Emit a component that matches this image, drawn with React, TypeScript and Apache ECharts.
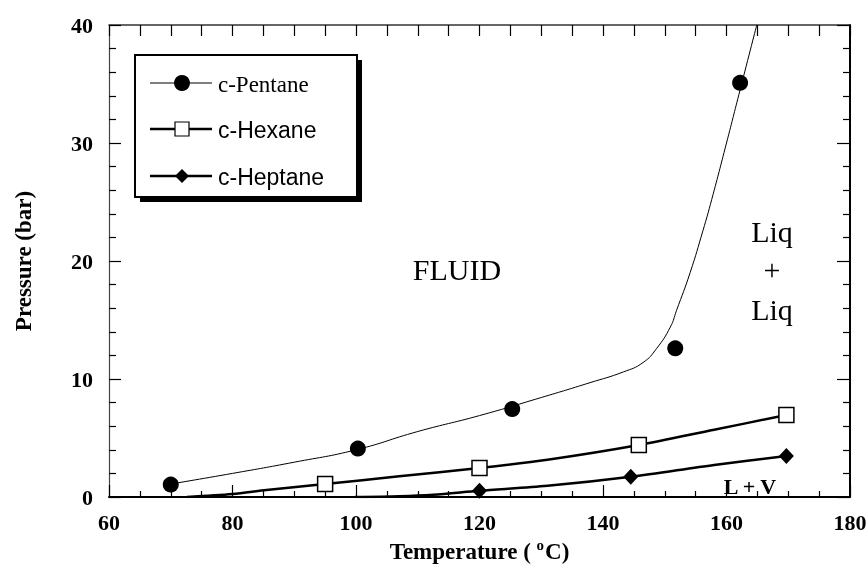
import React, { useEffect, useRef } from "react";
import * as echarts from "echarts";

// Axis ranges / ticks
const xTicks = [60, 80, 100, 120, 140, 160, 180];
const yTicks = [0, 10, 20, 30, 40];

// Measured data points (markers)
const pentaneT = [70, 100.3, 125.3, 151.7, 162.2];
const pentaneP = [1.05, 4.1, 7.45, 12.6, 35.1];
const hexaneT = [95, 120, 145.8, 169.7];
const hexaneP = [1.1, 2.45, 4.4, 6.95];
const heptaneT = [120, 144.5, 169.7];
const heptaneP = [0.53, 1.72, 3.47];

// Fitted curves
const pentaneFitT = [70, 80, 90, 100, 110, 120, 130, 137.9, 143.3, 146.5, 148.7, 150.9, 151.9, 154.1, 156.2, 157.6, 160, 162.2, 164.9];
const pentaneFitP = [1.1, 2.0, 2.95, 4.0, 5.55, 6.9, 8.43, 9.69, 10.6, 11.4, 12.6, 14.4, 15.8, 19.0, 22.6, 25.2, 30.0, 34.5, 40];
const hexaneFitT = [72.6, 80, 85.5, 95, 107, 120, 131, 145.8, 158, 169.7];
const hexaneFitP = [0, 0.25, 0.6, 1.1, 1.75, 2.45, 3.15, 4.4, 5.7, 6.95];
const heptaneFitT = [99.8, 107, 112.5, 120, 131, 144.5, 158, 169.7];
const heptaneFitP = [0, 0.07, 0.2, 0.53, 0.95, 1.72, 2.72, 3.47];

const seriesNames = ["c-Pentane", "c-Hexane", "c-Heptane"];

const zip = (a: number[], b: number[]) => a.map((v, i) => [v, b[i]]);

const SERIF = "'Liberation Serif', 'Times New Roman', serif";
const SANS = "'Liberation Sans', Arial, sans-serif";

export default function App() {
  const ref = useRef<HTMLDivElement>(null);
  useEffect(() => {
    if (!ref.current) return;
    const chart = echarts.init(ref.current, undefined, { renderer: "svg" });
    const xmin = xTicks[0], xmax = xTicks[xTicks.length - 1];
    const ymin = yTicks[0], ymax = yTicks[yTicks.length - 1];
    const labelStyle = { fontFamily: SERIF, fontWeight: "bold", fontSize: 22, color: "#000" };
    const option: any = {
      animation: false,
      grid: { left: 109, right: 16, top: 25, bottom: 82, outerBoundsMode: "none" },
      xAxis: [
        {
          type: "value", min: xmin, max: xmax, interval: 20,
          name: "{n|Temperature ( }{s|o}{n|C)}",
          nameLocation: "middle", nameGap: 38,
          nameTextStyle: {
            rich: {
              n: { fontFamily: SERIF, fontWeight: "bold", fontSize: 23, color: "#000", lineHeight: 28 },
              s: { fontFamily: SERIF, fontWeight: "bold", fontSize: 15, color: "#000", verticalAlign: "top", lineHeight: 28, padding: [0, 1, 10, 0] },
            },
          },
          axisLine: { show: true, onZero: false, lineStyle: { color: "#000", width: 2 } },
          axisTick: { show: true, inside: true, length: 12, lineStyle: { color: "#000", width: 1.2 } },
          minorTick: { show: true, splitNumber: 4, length: 6, lineStyle: { color: "#000", width: 1.2 } },
          axisLabel: { ...labelStyle, margin: 14 },
          splitLine: { show: false },
        },
        {
          type: "value", min: xmin, max: xmax, interval: 20, position: "top",
          axisLine: { show: true, onZero: false, lineStyle: { color: "#333", width: 1.5 } },
          axisTick: { show: true, inside: true, length: 11, lineStyle: { color: "#000", width: 1.2 } },
          minorTick: { show: true, splitNumber: 4, length: 11, lineStyle: { color: "#000", width: 1.2 } },
          axisLabel: { show: false },
          splitLine: { show: false },
        },
      ],
      yAxis: [
        {
          type: "value", min: ymin, max: ymax, interval: 10,
          name: "Pressure (bar)", nameLocation: "middle", nameGap: 74, nameRotate: 90,
          nameTextStyle: { fontFamily: SERIF, fontWeight: "bold", fontSize: 23, color: "#000" },
          axisLine: { show: true, onZero: false, lineStyle: { color: "#444", width: 1.2 } },
          axisTick: { show: true, inside: true, length: 12, lineStyle: { color: "#000", width: 1.2 } },
          minorTick: { show: true, splitNumber: 5, length: 7, lineStyle: { color: "#000", width: 1.2 } },
          axisLabel: { ...labelStyle, margin: 16 },
          splitLine: { show: false },
        },
        {
          type: "value", min: ymin, max: ymax, interval: 10, position: "right",
          axisLine: { show: true, onZero: false, lineStyle: { color: "#000", width: 2 } },
          axisTick: { show: true, inside: true, length: 13, lineStyle: { color: "#000", width: 1.2 } },
          minorTick: { show: true, splitNumber: 5, length: 7, lineStyle: { color: "#000", width: 1.2 } },
          axisLabel: { show: false },
          splitLine: { show: false },
        },
      ],
      series: [
        {
          name: seriesNames[0] + " fit", type: "line", data: zip(pentaneFitT, pentaneFitP),
          showSymbol: false, symbol: "none", smooth: 0.5,
          lineStyle: { color: "#000", width: 1 }, z: 2,
        },
        {
          name: seriesNames[1] + " fit", type: "line", data: zip(hexaneFitT, hexaneFitP),
          showSymbol: false, symbol: "none", smooth: 0.3,
          lineStyle: { color: "#000", width: 2.5 }, z: 2,
        },
        {
          name: seriesNames[2] + " fit", type: "line", data: zip(heptaneFitT, heptaneFitP),
          showSymbol: false, symbol: "none", smooth: 0.3,
          lineStyle: { color: "#000", width: 2.5 }, z: 2,
        },
        {
          name: seriesNames[0], type: "scatter", data: zip(pentaneT, pentaneP),
          symbol: "circle", symbolSize: 16, itemStyle: { color: "#000", opacity: 1 }, z: 5,
        },
        {
          name: seriesNames[1], type: "scatter", data: zip(hexaneT, hexaneP),
          symbol: "rect", symbolSize: 15, itemStyle: { color: "#fff", borderColor: "#000", borderWidth: 1.5, opacity: 1 }, z: 5,
        },
        {
          name: seriesNames[2], type: "scatter", data: zip(heptaneT, heptaneP),
          symbol: "diamond", symbolSize: [15, 16], itemStyle: { color: "#000", opacity: 1 }, z: 5,
        },
      ],
      graphic: [
        { type: "rect", shape: { x: 140, y: 60, width: 222, height: 142 }, style: { fill: "#000" }, z: 100 },
        { type: "rect", shape: { x: 135, y: 55, width: 222, height: 142 }, style: { fill: "#fff", stroke: "#000", lineWidth: 2 }, z: 101 },
        { type: "line", shape: { x1: 150, y1: 83, x2: 212, y2: 83 }, style: { stroke: "#000", lineWidth: 1 }, z: 102 },
        { type: "circle", shape: { cx: 182, cy: 83, r: 8 }, style: { fill: "#000" }, z: 103 },
        { type: "text", x: 218, y: 84, style: { text: seriesNames[0], fontFamily: SERIF, fontSize: 23, fill: "#000", textVerticalAlign: "middle", verticalAlign: "middle" }, z: 103 },
        { type: "line", shape: { x1: 150, y1: 129, x2: 212, y2: 129 }, style: { stroke: "#000", lineWidth: 2.5 }, z: 102 },
        { type: "rect", shape: { x: 175, y: 122, width: 14, height: 14 }, style: { fill: "#fff", stroke: "#000", lineWidth: 1.2 }, z: 103 },
        { type: "text", x: 218, y: 130, style: { text: seriesNames[1], fontFamily: SANS, fontSize: 23, fill: "#000", textVerticalAlign: "middle", verticalAlign: "middle" }, z: 103 },
        { type: "line", shape: { x1: 150, y1: 176, x2: 212, y2: 176 }, style: { stroke: "#000", lineWidth: 2.5 }, z: 102 },
        { type: "polygon", shape: { points: [[182, 169], [189, 176], [182, 183], [175, 176]] }, style: { fill: "#000" }, z: 103 },
        { type: "text", x: 218, y: 177, style: { text: seriesNames[2], fontFamily: SANS, fontSize: 23, fill: "#000", textVerticalAlign: "middle", verticalAlign: "middle" }, z: 103 },
        { type: "text", x: 457, y: 269, style: { text: "FLUID", fontFamily: SERIF, fontSize: 30, fill: "#000", textAlign: "center", align: "center", textVerticalAlign: "middle", verticalAlign: "middle" }, z: 50 },
        { type: "text", x: 772, y: 231, style: { text: "Liq", fontFamily: SERIF, fontSize: 30, fill: "#000", textAlign: "center", align: "center", textVerticalAlign: "middle", verticalAlign: "middle" }, z: 50 },
        { type: "text", x: 772, y: 269, style: { text: "+", fontFamily: SERIF, fontSize: 30, fill: "#000", textAlign: "center", align: "center", textVerticalAlign: "middle", verticalAlign: "middle" }, z: 50 },
        { type: "text", x: 772, y: 309, style: { text: "Liq", fontFamily: SERIF, fontSize: 30, fill: "#000", textAlign: "center", align: "center", textVerticalAlign: "middle", verticalAlign: "middle" }, z: 50 },
        { type: "text", x: 750, y: 486, style: { text: "L + V", fontFamily: SERIF, fontWeight: "bold", fontSize: 22, fill: "#000", textAlign: "center", align: "center", textVerticalAlign: "middle", verticalAlign: "middle" }, z: 50 },
      ],
    };
    chart.setOption(option);
    return () => chart.dispose();
  }, []);
  return <div ref={ref} style={{ position: "fixed", left: 0, top: 0, width: 866, height: 579 }} />;
}
